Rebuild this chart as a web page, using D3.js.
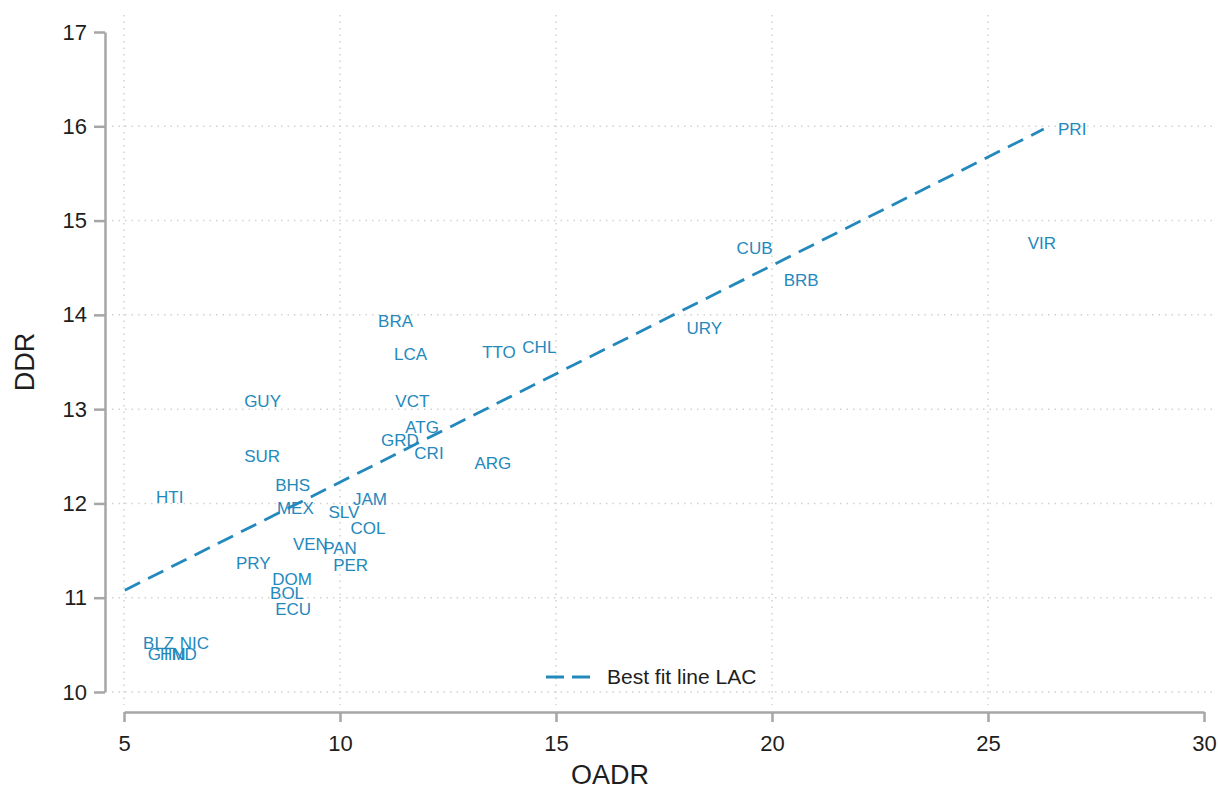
<!DOCTYPE html>
<html>
<head>
<meta charset="utf-8">
<script src="https://cdn.jsdelivr.net/npm/d3@7"></script>
<style>
  body { margin: 0; background: #fff; }
  svg { display: block; font-family: "Liberation Sans", Arial, Helvetica, sans-serif; }
</style>
</head>
<body>
<svg id="chart" width="1218" height="790"></svg>
<script>
// country labels with old-age dependency ratio (x) and DDR (y)
const countries = ['PRI', 'VIR', 'CUB', 'BRB', 'URY', 'CHL', 'TTO', 'BRA', 'LCA', 'VCT',
  'ATG', 'GRD', 'CRI', 'ARG', 'GUY', 'SUR', 'BHS', 'MEX', 'JAM', 'SLV',
  'COL', 'VEN', 'PAN', 'PER', 'PRY', 'DOM', 'BOL', 'ECU', 'HTI', 'BLZ',
  'NIC', 'GTM', 'HND'];
const oadr = [26.32, 25.62, 18.88, 19.97, 17.72, 13.92, 12.99, 10.58, 10.95, 10.98,
  11.21, 10.65, 11.42, 12.81, 7.48, 7.48, 8.20, 8.24, 10.00, 9.43,
  9.94, 8.61, 9.31, 9.54, 7.29, 8.13, 8.08, 8.20, 5.44, 5.14,
  5.99, 5.25, 5.53];
const ddr = [15.97, 14.76, 14.71, 14.37, 13.86, 13.66, 13.61, 13.93, 13.58, 13.09,
  12.81, 12.67, 12.53, 12.43, 13.09, 12.50, 12.20, 11.95, 12.05, 11.91,
  11.74, 11.57, 11.53, 11.35, 11.37, 11.20, 11.05, 10.88, 12.07, 10.52,
  10.52, 10.40, 10.40];

// best fit line end points
const fitOadr = [5.02, 26.29];
const fitDdr = [11.08, 15.97];

const xTicks = [5, 10, 15, 20, 25, 30];
const yTicks = [10, 11, 12, 13, 14, 15, 16, 17];
const xGrid = [5, 10, 15, 20, 25];
const yGrid = [10, 11, 12, 13, 14, 15, 16];

const blue = '#2389bd';
const svg = d3.select('#chart');

const x = d3.scaleLinear().domain([5, 30]).range([124, 1204]);
const y = d3.scaleLinear().domain([10, 17]).range([692, 32]);

// dotted grid
svg.append('g').selectAll('line').data(xGrid).join('line')
  .attr('x1', d => x(d)).attr('x2', d => x(d))
  .attr('y1', 15).attr('y2', 705)
  .attr('stroke', '#d2d2d2').attr('stroke-width', 1.5)
  .attr('stroke-dasharray', '1.5,5');
svg.append('g').selectAll('line').data(yGrid).join('line')
  .attr('x1', 112).attr('x2', 1215)
  .attr('y1', d => y(d)).attr('y2', d => y(d))
  .attr('stroke', '#d2d2d2').attr('stroke-width', 1.5)
  .attr('stroke-dasharray', '1.5,5');

// axes
const yAxis = svg.append('g')
  .attr('transform', 'translate(105,0)')
  .call(d3.axisLeft(y).tickValues(yTicks).tickFormat(d3.format('d'))
    .tickSize(11).tickSizeOuter(0).tickPadding(7));
const xAxis = svg.append('g')
  .attr('transform', 'translate(0,712)')
  .call(d3.axisBottom(x).tickValues(xTicks).tickFormat(d3.format('d'))
    .tickSize(10).tickSizeOuter(0).tickPadding(13));

[yAxis, xAxis].forEach(g => {
  g.select('.domain').attr('stroke', '#a6a6a6').attr('stroke-width', 2.5);
  g.selectAll('.tick line').attr('stroke', '#a6a6a6').attr('stroke-width', 2.5);
  g.selectAll('.tick text')
    .attr('fill', '#1e1e1e')
    .style('font-size', '22px')
    .style('font-family', '"Liberation Sans", Arial, sans-serif');
});

// fit line
const line = d3.line().x(d => x(d[0])).y(d => y(d[1]));
svg.append('path')
  .attr('d', line(d3.zip(fitOadr, fitDdr)))
  .attr('fill', 'none')
  .attr('stroke', blue)
  .attr('stroke-width', 2.8)
  .attr('stroke-dasharray', '17,9');

// country labels (marker hidden, label at 3 o'clock)
svg.append('g').selectAll('text').data(countries).join('text')
  .attr('x', (d, i) => x(oadr[i]) + 13)
  .attr('y', (d, i) => y(ddr[i]))
  .attr('dy', '0.35em')
  .attr('fill', blue)
  .style('font-size', '17px')
  .text(d => d);

// legend
const legend = svg.append('g').attr('transform', 'translate(546,677)');
legend.append('line')
  .attr('x1', 0).attr('x2', 44)
  .attr('stroke', blue).attr('stroke-width', 2.8)
  .attr('stroke-dasharray', '18,8');
legend.append('text')
  .attr('x', 61).attr('dy', '0.35em')
  .attr('fill', '#1e1e1e')
  .style('font-size', '21px')
  .text('Best fit line LAC');

// axis titles
svg.append('text')
  .attr('x', 610).attr('y', 775).attr('dy', '0.35em')
  .attr('text-anchor', 'middle')
  .attr('fill', '#1e1e1e')
  .style('font-size', '27px')
  .text('OADR');
svg.append('text')
  .attr('transform', 'translate(25,362) rotate(-90)')
  .attr('dy', '0.35em')
  .attr('text-anchor', 'middle')
  .attr('fill', '#1e1e1e')
  .style('font-size', '27px')
  .text('DDR');
</script>
</body>
</html>
